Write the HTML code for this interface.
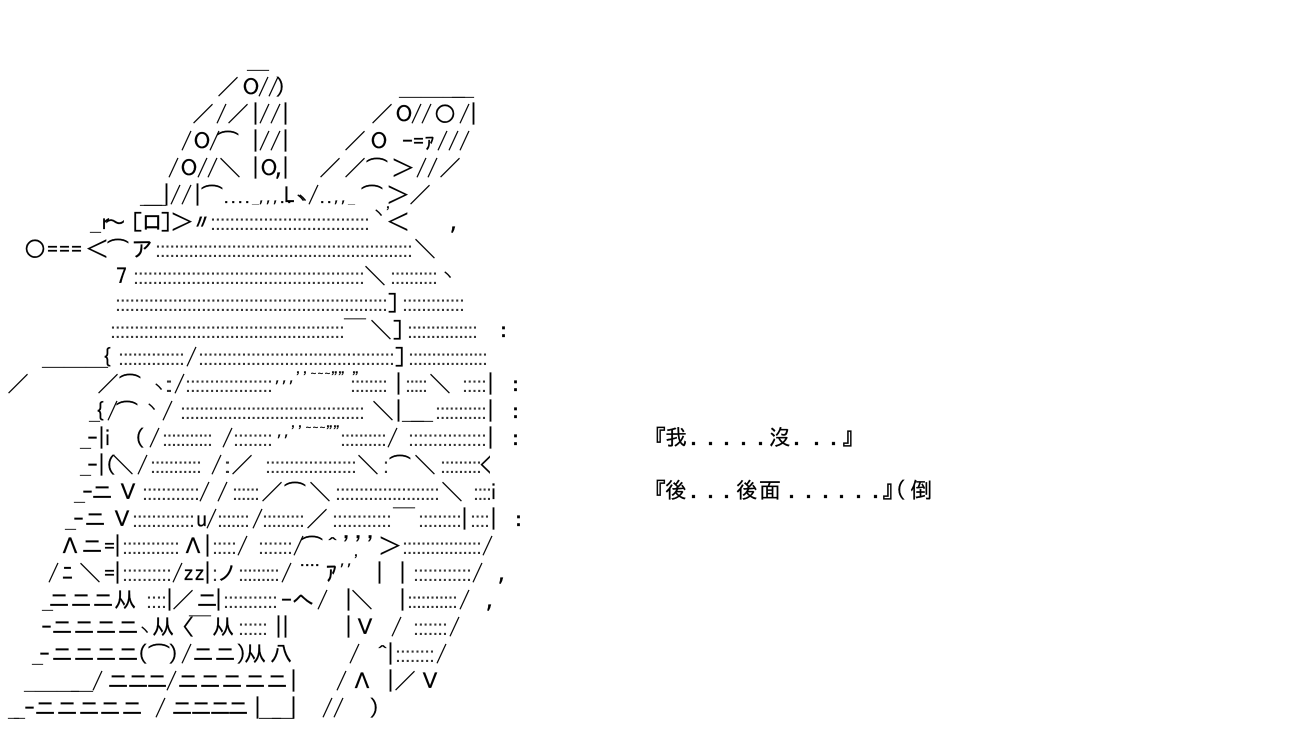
<!DOCTYPE html>
<html><head><meta charset="utf-8"><style>
html,body{margin:0;padding:0;background:#fff;width:1300px;height:750px;overflow:hidden}
svg{display:block}
text{font-family:"IPAGothic","Noto Sans CJK JP",sans-serif;font-size:22px;fill:#000;stroke:#000;stroke-width:.25;white-space:pre}
text.d{font-family:"Liberation Sans",sans-serif;font-size:21.5px;fill:#333;stroke:none}
text.s{font-size:14px;stroke-width:.2}
text.t{font-family:"IPAGothic","Noto Sans CJK TC",sans-serif;font-size:22px}
</style></head><body>
<svg width="1300" height="750" viewBox="0 0 1300 750" xmlns="http://www.w3.org/2000/svg">
<text y="68" x="247">＿</text>
<text y="95" x="217 240 258 268 275">／Ｏ//)</text>
<text y="95" x="399 421 443 452">＿＿＿＿</text>
<text y="122" x="192 216 227 250 259 270 280">／/／|//|</text>
<text y="122" x="371 393 411 421 434 459 468">／Ｏ//○/|</text>
<text y="149" x="181 191 209 217 250 259 270 280">/Ｏ/⌒|//|</text>
<text y="149" x="344 368 402 413 424 437 448 459">／Ｏ-=ｧ///</text>
<text y="176" x="168 178 197 207 219 250 258 275 280">/Ｏ//＼|Ｏ,|</text>
<text y="176" x="319 344 366 392 416 427 439">／／⌒＞//／</text>
<text y="203" x="140 144 161 170 181 192 201 284 308 361 387 409">＿＿|//|⌒L/⌒＞／</text>
<text class="s" y="203" x="224">...._,,,..ヽ</text>
<text class="s" y="203" x="296">ヽ</text>
<text class="s" y="203" x="320">..,,_</text>
<text y="230" x="90 100 104 132 141 160 171 191 387 450">_r～[ロ]＞〃＜,</text>
<text class="s" y="218" x="372">ヽ'</text>
<text class="d" y="230" x="210" textLength="160">:::::::::::::::::::::::::::::::::</text>
<text y="257" x="24 47 59 71 86 107 131 414">○===＜⌒ア＼</text>
<text class="d" y="257" x="155" textLength="258">::::::::::::::::::::::::::::::::::::::::::::::::::::::</text>
<text y="284" x="116 364">7＼</text>
<text class="s" y="280" x="441">ヽ</text>
<text class="d" y="284" x="133" textLength="232">::::::::::::::::::::::::::::::::::::::::::::::::</text>
<text class="d" y="284" x="390" textLength="48">::::::::::</text>
<text y="311" x="387">]</text>
<text class="d" y="311" x="115" textLength="273">:::::::::::::::::::::::::::::::::::::::::::::::::::::::::</text>
<text class="d" y="311" x="402" textLength="63">:::::::::::::</text>
<text y="338" x="344 370 392 498">￣＼]:</text>
<text class="d" y="338" x="110" textLength="235">:::::::::::::::::::::::::::::::::::::::::::::::::</text>
<text class="d" y="338" x="407" textLength="71">:::::::::::::::</text>
<text y="365" x="42 64 86 101 186 394">＿＿＿{/]</text>
<text class="d" y="365" x="118" textLength="67">::::::::::::::</text>
<text class="d" y="365" x="198" textLength="197">:::::::::::::::::::::::::::::::::::::::::</text>
<text class="d" y="365" x="408" textLength="80">:::::::::::::::::</text>
<text y="392" x="7 97 119 174 393 429 485 510">／／⌒/|＼|:</text>
<text class="s" y="392" x="152">ヽ</text>
<text class="d" y="392" x="165" textLength="8">::</text>
<text class="d" y="392" x="185" textLength="88">::::::::::::::::::</text>
<text class="d" y="392" x="350" textLength="38">::::::::</text>
<text class="d" y="392" x="405" textLength="23">:::::</text>
<text class="d" y="392" x="462" textLength="25">:::::</text>
<text class="s" y="383" x="275">,,,''~~~"" "</text>
<text y="419" x="89 94 107 116 162 372 393 402 411 485 510">_{/⌒/＼|＿＿|:</text>
<text class="s" y="412" x="145">ヽ</text>
<text class="d" y="419" x="180" textLength="185">:::::::::::::::::::::::::::::::::::::::</text>
<text class="d" y="419" x="435" textLength="52">:::::::::::</text>
<text y="446" x="80 87 96 102 134 149 222 387 485 510">_ｰ|i(///|:</text>
<text class="d" y="446" x="162" textLength="51">:::::::::::</text>
<text class="d" y="446" x="233" textLength="40">::::::::</text>
<text class="d" y="446" x="340" textLength="47">::::::::::</text>
<text class="d" y="446" x="408" textLength="79">::::::::::::::::</text>
<text class="s" y="437" x="277">,,''~~~""</text>
<text y="473" x="80 87 96 105 112 137 211 231 357 389 414 480">_ｰ|(＼//／＼⌒＼&lt;</text>
<text class="d" y="473" x="150" textLength="52">:::::::::::</text>
<text class="d" y="473" x="224" textLength="7">::</text>
<text class="d" y="473" x="265" textLength="92">:::::::::::::::::::</text>
<text class="d" y="473" x="383" textLength="6">::</text>
<text class="d" y="473" x="440" textLength="42">:::::::::</text>
<text y="500" x="74 82 91 117 199 217 261 284 309 441 488">_ｰニＶ//／⌒＼＼i</text>
<text class="d" y="500" x="142" textLength="58">::::::::::::</text>
<text class="d" y="500" x="232" textLength="28">::::::</text>
<text class="d" y="500" x="335" textLength="105">::::::::::::::::::::::</text>
<text class="d" y="500" x="473" textLength="19">::::</text>
<text y="527" x="65 73 84 111 196 206 252 306 393 459 488 513">_ｰニＶu//／￣||:</text>
<text class="d" y="527" x="132" textLength="63">:::::::::::::</text>
<text class="d" y="527" x="217" textLength="33">:::::::</text>
<text class="d" y="527" x="262" textLength="43">:::::::::</text>
<text class="d" y="527" x="332" textLength="60">::::::::::::</text>
<text class="d" y="527" x="418" textLength="44">:::::::::</text>
<text class="d" y="527" x="470" textLength="20">::::</text>
<text y="554" x="59 81 104 112 182 202 237 293 301 327 343 355 367 379 482">Λニ=|Λ|//⌒^'''＞/</text>
<text class="d" y="554" x="122" textLength="58">::::::::::::</text>
<text class="d" y="554" x="212" textLength="25">:::::</text>
<text class="d" y="554" x="258" textLength="35">:::::::</text>
<text class="d" y="554" x="402" textLength="80">:::::::::::::::::</text>
<text y="581" x="48 62 79 104 112 172 183 194 202 216 281 326 374 397 472 498">/ﾆ＼=|/zz|ノ/ｱ||/,</text>
<text class="s" y="566" x="300" textLength="22">....</text>
<text class="s" y="566" x="340">,,'</text>
<text class="d" y="581" x="122" textLength="50">::::::::::</text>
<text class="d" y="581" x="212" textLength="6">::</text>
<text class="d" y="581" x="238" textLength="42">:::::::::</text>
<text class="d" y="581" x="413" textLength="59">::::::::::::</text>
<text y="608" x="42 48 70 92 114 164 172 196 213 281 292 317 343 351 397 459 486">_ニニニ从|／ニ|-へ/|＼|/,</text>
<text class="d" y="608" x="146" textLength="21">::::</text>
<text class="d" y="608" x="223" textLength="55">:::::::::::</text>
<text class="d" y="608" x="407" textLength="51">:::::::::::</text>
<text y="635" x="41 51 73 95 117 152 172 189 212 273 280 343 354 391 449">ｰニニニニ从〈￣从|||Ｖ//</text>
<text class="s" y="635" x="138">ヽ</text>
<text class="d" y="635" x="238" textLength="30">::::::</text>
<text class="d" y="635" x="413" textLength="35">:::::::</text>
<text y="662" x="32 39 51 73 95 117 137 148 168 181 192 214 236 244 270 349 377 385 436">_ｰニニニニ(⌒)/ニニ)从八/^|/</text>
<text class="d" y="662" x="395" textLength="40">::::::::</text>
<text y="689" x="24 35 57 71 92 107 127 146 166 177 199 221 244 266 288 336 351 385 394 419">_＿＿＿/ニニニ/ニニニニニ|/Λ|／Ｖ</text>
<text y="716" x="8 14 24 34 56 78 99 121 155 171 190 209 227 252 259 272 288 322 333 369">__ｰニニニニニ/ニニニニ|＿＿|//)</text>
<text class="t" y="445" x="644 665 690 707 723 740 757 769 793 813 830 842">『我.....沒...』</text>
<text class="t" y="498" x="644 665 690 707 723 736 759 788 805 822 838 855 872 882 895 910">『後...後面......』(倒</text>
</svg>
</body></html>
